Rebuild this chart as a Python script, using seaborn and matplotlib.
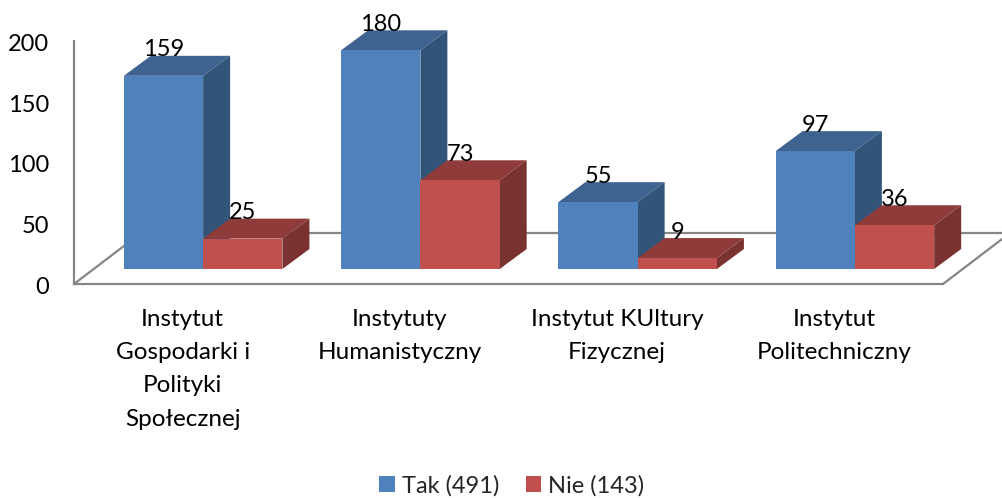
import matplotlib
matplotlib.use("Agg")
import matplotlib.pyplot as plt
from matplotlib.patches import Polygon
from matplotlib.lines import Line2D
from matplotlib.transforms import Affine2D, IdentityTransform
import pandas as pd
import seaborn as sns

categories = ["Instytut\nGospodarki i\nPolityki\nSpołecznej", "Instytuty\nHumanistyczny",
              "Instytut KUltury\nFizycznej", "Instytut\nPolitechniczny"]
tak_values = [159, 180, 55, 97]
nie_values = [25, 73, 9, 36]
series_names = ["Tak (491)", "Nie (143)"]
y_ticks = [0, 50, 100, 150, 200]

front_colors = ["#4F81BD", "#C0504D"]
top_colors = ["#3F6390", "#8E3B39"]
side_colors = ["#325479", "#7A3230"]
axis_color = "#868686"

# pixel offsets of the fake 3d box
BAR_SHIFT = (20.5, 15)
DEPTH = (27, 20)
FLOOR = (67, 51)

sns.set_style("white")
plt.rcParams["font.family"] = ["Lato", "DejaVu Sans"]

df = pd.DataFrame({
    "category": categories * 2,
    "series": [series_names[0]] * 4 + [series_names[1]] * 4,
    "value": tak_values + nie_values,
})

fig = plt.figure(figsize=(10.02, 4.98), dpi=100)
ax = fig.add_axes([74 / 1002, (498 - 284) / 498, 869 / 1002, 243 / 498])
sns.barplot(data=df, x="category", y="value", hue="series", palette=front_colors,
            saturation=1, width=0.73, gap=0, linewidth=0, ax=ax)
ax.set_xlim(-0.5, 3.5)
ax.set_ylim(0, 200)
ax.set_yticks(y_ticks)
ax.set_xlabel("")
ax.set_ylabel("")
ax.tick_params(axis="y", length=0, pad=18, labelsize=17, colors="black")
ax.tick_params(axis="x", length=0, pad=18, labelsize=17.5, colors="black")
for lab in ax.get_xticklabels():
    lab.set_linespacing(1.72)
for lab in ax.get_yticklabels():
    lab.set_transform(lab.get_transform() + Affine2D().translate(0, -1.5))
sns.despine(ax=ax)
for side in ["left", "bottom"]:
    ax.spines[side].set_color(axis_color)
    ax.spines[side].set_linewidth(1.6)
ax.patch.set_alpha(0)

# floor of the 3d box
fig.canvas.draw()
(x0, y0), (x1, y1) = ax.transAxes.transform([(0, 0), (1, 0)])
floor_x = [x0, x0 + FLOOR[0], x1 + FLOOR[0], x1]
floor_y = [y0, y0 + FLOOR[1], y1 + FLOOR[1], y1]
ax.add_line(Line2D(floor_x, floor_y, color=axis_color, lw=1.6, transform=IdentityTransform(),
                   clip_on=False, zorder=1))

shift = Affine2D().translate(BAR_SHIFT[0], BAR_SHIFT[1])
for i, bars in enumerate(ax.containers):
    for bar in bars:
        x, w, h = bar.get_x(), bar.get_width(), bar.get_height()
        (px0, py0), (px1, py1) = (ax.transData + shift).transform([(x, 0), (x + w, h)])
        bar.set_transform(ax.transData + shift)
        bar.set_clip_on(False)
        bar.set_zorder(3)
        dx, dy = DEPTH
        top = [(px0, py1), (px1, py1), (px1 + dx, py1 + dy), (px0 + dx, py1 + dy)]
        right = [(px1, py0), (px1 + dx, py0 + dy), (px1 + dx, py1 + dy), (px1, py1)]
        ax.add_patch(Polygon(top, closed=True, fc=top_colors[i], ec="none", zorder=2,
                             transform=IdentityTransform(), clip_on=False))
        ax.add_patch(Polygon(right, closed=True, fc=side_colors[i], ec="none", zorder=2,
                             transform=IdentityTransform(), clip_on=False))
        ax.text((px0 + px1) / 2, py1 + 26, f"{h:.0f}", ha="center", va="center", fontsize=17,
                color="black", transform=IdentityTransform(), clip_on=False, zorder=5)

sns.move_legend(ax, "center", bbox_to_anchor=(512 / 1002, 12.5 / 498),
                bbox_transform=fig.transFigure, ncol=2, title=None, frameon=False,
                fontsize=17, handlelength=0.64, handleheight=0.64, handletextpad=0.3,
                columnspacing=1.15)

fig.savefig("out.png", dpi=100)
